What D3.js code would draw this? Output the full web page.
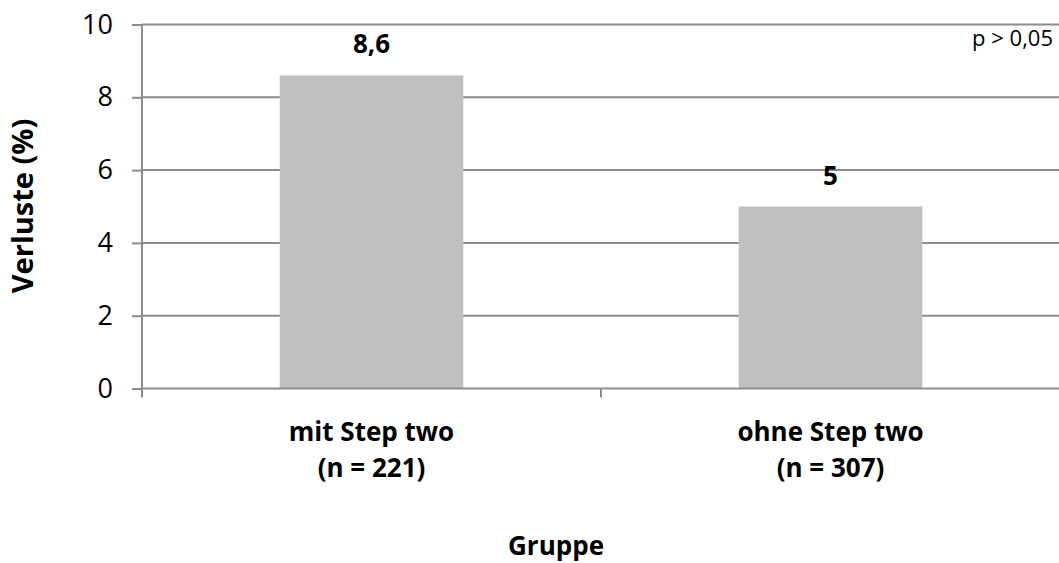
<!DOCTYPE html>
<html>
<head>
<meta charset="utf-8">
<script src="https://cdn.jsdelivr.net/npm/d3@7"></script>
<style>
  html, body { margin: 0; padding: 0; background: #fff; }
  svg { display: block; font-family: "Open Sans", Lato, sans-serif; }
</style>
</head>
<body>
<svg id="chart" width="1059" height="563"></svg>
<script>
// Verluste je Gruppe
const categories = ["mit Step two", "ohne Step two"];
const groupSizes = ["(n = 221)", "(n = 307)"];
const lossValues = [8.6, 5];
const valueLabels = ["8,6", "5"];
const yTicks = [0, 2, 4, 6, 8, 10];
const yTitle = "Verluste (%)";
const xTitle = "Gruppe";
const note = "p > 0,05";

const svg = d3.select("#chart");
const plotLeft = 142, plotRight = 1060, plotTop = 24.5, plotBottom = 388.5;
const gridColor = "#8c8c8c";
const labelSize = 26;

const x = d3.scaleBand().domain(categories).range([plotLeft, plotRight])
  .paddingInner(0.6).paddingOuter(0.3);
const y = d3.scaleLinear().domain([0, 10]).range([plotBottom, plotTop]);

// horizontal gridlines
svg.append("g").selectAll("line").data(yTicks.filter(d => d > 0)).join("line")
  .attr("x1", plotLeft).attr("x2", plotRight)
  .attr("y1", d => y(d)).attr("y2", d => y(d))
  .attr("stroke", gridColor).attr("stroke-width", 2);

// bars
svg.append("g").selectAll("rect").data(lossValues).join("rect")
  .attr("x", (d, i) => x(categories[i]))
  .attr("width", x.bandwidth())
  .attr("y", d => y(d))
  .attr("height", d => y(0) - y(d))
  .attr("fill", "#bfbfbf");

// y axis
const yAxis = svg.append("g").attr("transform", `translate(${plotLeft},0)`)
  .call(d3.axisLeft(y).tickValues(yTicks).tickFormat(d3.format("d")).tickSize(10).tickPadding(19));
yAxis.select(".domain").attr("stroke", gridColor).attr("stroke-width", 2)
  .attr("d", `M0,${plotTop}V${plotBottom + 8}`);
yAxis.selectAll(".tick line").attr("stroke", gridColor).attr("stroke-width", 2);
yAxis.selectAll(".tick text").attr("font-size", 27).attr("fill", "#000")
  .attr("font-family", "'Open Sans', sans-serif");

// x axis baseline with category separators
const xAxis = svg.append("g").attr("transform", `translate(0,${plotBottom})`);
xAxis.append("line").attr("x1", plotLeft).attr("x2", plotRight)
  .attr("stroke", gridColor).attr("stroke-width", 2);
const step = x.step();
const boundaries = d3.range(categories.length + 1).map(i => plotLeft + i * step);
xAxis.selectAll("line.sep").data(boundaries).join("line").attr("class", "sep")
  .attr("x1", d => d).attr("x2", d => d).attr("y1", 0).attr("y2", 9)
  .attr("stroke", gridColor).attr("stroke-width", 2);

// category labels
const catLabels = svg.append("g").selectAll("text").data(categories).join("text")
  .attr("x", d => x(d) + x.bandwidth() / 2)
  .attr("text-anchor", "middle").attr("font-weight", "bold").attr("font-size", labelSize);
catLabels.append("tspan").attr("x", d => x(d) + x.bandwidth() / 2).attr("y", 441).text(d => d);
catLabels.append("tspan").attr("x", d => x(d) + x.bandwidth() / 2).attr("y", 477)
  .text((d, i) => groupSizes[i]);

// value labels
svg.append("g").selectAll("text").data(lossValues).join("text")
  .attr("x", (d, i) => x(categories[i]) + x.bandwidth() / 2)
  .attr("y", d => y(d) - 22)
  .attr("text-anchor", "middle").attr("font-weight", "bold").attr("font-size", labelSize)
  .text((d, i) => valueLabels[i]);

// axis titles
svg.append("text").attr("transform", "translate(33,206) rotate(-90)")
  .attr("text-anchor", "middle").attr("font-weight", "bold").attr("font-size", 29)
  .text(yTitle);
svg.append("text").attr("x", 556).attr("y", 555)
  .attr("text-anchor", "middle").attr("font-weight", "bold").attr("font-size", labelSize)
  .text(xTitle);

// significance note
svg.append("text").attr("x", 1053).attr("y", 46)
  .attr("text-anchor", "end").attr("font-size", 22)
  .text(note);
</script>
</body>
</html>
